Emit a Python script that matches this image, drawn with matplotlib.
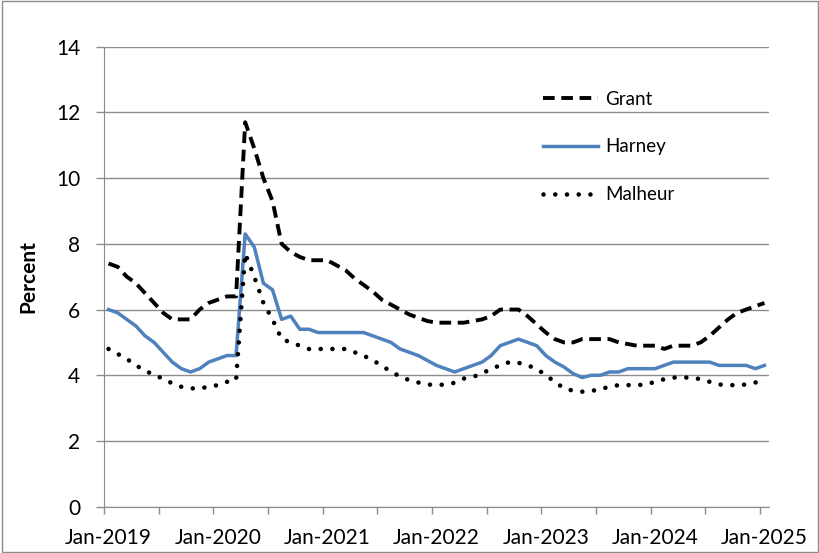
import matplotlib.pyplot as plt
import numpy as np
from matplotlib.patches import Rectangle
from matplotlib.ticker import FixedLocator

plt.rcParams['font.family'] = ['Lato', 'DejaVu Sans']

# monthly unemployment rate, Jan-2019 .. Jan-2025
grant = [7.4, 7.3, 7.0, 6.8, 6.5, 6.2, 5.9, 5.7, 5.7, 5.7, 6.0, 6.2,
         6.3, 6.4, 6.4, 11.7, 10.9, 10.0, 9.3, 8.0, 7.75, 7.6, 7.5, 7.5,
         7.5, 7.35, 7.2, 6.95, 6.75, 6.55, 6.3, 6.15, 6.0, 5.85, 5.75, 5.65,
         5.6, 5.6, 5.6, 5.6, 5.65, 5.7, 5.8, 6.0, 6.0, 6.0, 5.8, 5.55,
         5.3, 5.1, 5.0, 5.0, 5.1, 5.1, 5.1, 5.1, 5.0, 4.95, 4.9, 4.9,
         4.9, 4.8, 4.9, 4.9, 4.9, 5.0, 5.2, 5.45, 5.7, 5.9, 6.0, 6.1,
         6.2]
harney = [6.0, 5.9, 5.7, 5.5, 5.2, 5.0, 4.7, 4.4, 4.2, 4.1, 4.2, 4.4,
          4.5, 4.6, 4.6, 8.3, 7.9, 6.8, 6.6, 5.7, 5.8, 5.4, 5.4, 5.3,
          5.3, 5.3, 5.3, 5.3, 5.3, 5.2, 5.1, 5.0, 4.8, 4.7, 4.6, 4.45,
          4.3, 4.2, 4.1, 4.2, 4.3, 4.4, 4.6, 4.9, 5.0, 5.1, 5.0, 4.9,
          4.6, 4.4, 4.25, 4.05, 3.93, 4.0, 4.0, 4.1, 4.1, 4.2, 4.2, 4.2,
          4.2, 4.3, 4.4, 4.4, 4.4, 4.4, 4.4, 4.3, 4.3, 4.3, 4.3, 4.2,
          4.3]
malheur = [4.8, 4.65, 4.5, 4.3, 4.15, 4.0, 3.9, 3.75, 3.65, 3.6, 3.6, 3.65,
           3.7, 3.8, 3.85, 7.7, 7.0, 6.2, 5.7, 5.1, 5.0, 4.9, 4.8, 4.8,
           4.8, 4.8, 4.8, 4.7, 4.6, 4.45, 4.3, 4.1, 3.97, 3.85, 3.78, 3.72,
           3.7, 3.72, 3.77, 3.9, 3.95, 4.05, 4.2, 4.3, 4.4, 4.38, 4.3, 4.2,
           4.0, 3.8, 3.6, 3.53, 3.5, 3.52, 3.58, 3.65, 3.7, 3.7, 3.7, 3.72,
           3.8, 3.88, 3.93, 3.93, 3.93, 3.88, 3.8, 3.72, 3.7, 3.7, 3.72, 3.78,
           3.85]
year_labels = ['Jan-2019', 'Jan-2020', 'Jan-2021', 'Jan-2022',
               'Jan-2023', 'Jan-2024', 'Jan-2025']

gray = '#8c8c8c'
x = np.arange(len(grant))

fig = plt.figure(figsize=(8.2, 5.53), dpi=100)
ax = fig.add_axes([0.1268, 0.0837, 0.811, 0.832])

ax.plot(x, grant, color='black', lw=2.8, linestyle=(0, (3.0, 1.7)), label='Grant')
ax.plot(x, harney, color='#4f81bd', lw=2.5, label='Harney')
ax.plot(x, malheur, color='black', lw=3.3, linestyle=(0, (0.01, 2.55)),
        dash_capstyle='round', label='Malheur')

ax.set_xlim(-0.5, len(grant) - 0.5)
ax.set_ylim(0, 14)
ax.set_yticks(np.arange(0, 15, 2))
ax.yaxis.grid(True, color=gray, lw=1)
ax.set_axisbelow(True)

ax.set_xticks(np.arange(0, len(grant), 12))
ax.set_xticklabels(year_labels)
ax.xaxis.set_minor_locator(FixedLocator(np.arange(-0.5, len(grant), 6)))
ax.tick_params(axis='x', which='major', length=0, pad=15, labelsize=15)
ax.tick_params(axis='x', which='minor', length=5, color=gray, width=1)
ax.tick_params(axis='y', length=6, color=gray, width=1, pad=11, labelsize=15)

for s in ['top', 'right']:
    ax.spines[s].set_visible(False)
for s in ['left', 'bottom']:
    ax.spines[s].set_color(gray)

ax.set_ylabel('Percent', fontsize=15, fontweight='bold', labelpad=13)

ax.legend(loc='upper left', bbox_to_anchor=(0.635, 0.941), frameon=False,
          fontsize=13.5, handlelength=2.9, handletextpad=0.4, labelspacing=1.64)

fig.patches.append(Rectangle((0.002, 0.002), 0.996, 0.996, transform=fig.transFigure,
                             fill=False, edgecolor=gray, lw=1))

fig.savefig('out.png', dpi=100)
